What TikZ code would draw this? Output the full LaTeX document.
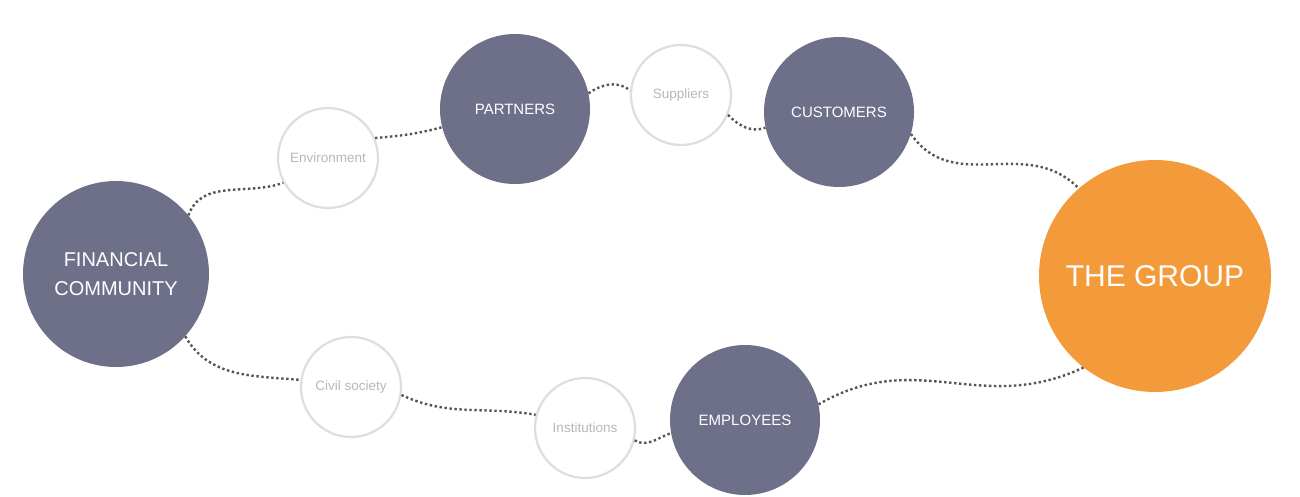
\documentclass[tikz,border=0pt]{standalone}
\usepackage{fontspec}
\setmainfont{Liberation Sans}
\definecolor{slate}{HTML}{6D7088}
\definecolor{grporange}{HTML}{F39A3A}
\definecolor{ringgray}{HTML}{DEDEDE}
\definecolor{smalltext}{HTML}{B8B8B8}
\definecolor{dotgray}{HTML}{555555}
\begin{document}
\begin{tikzpicture}[x=1pt,y=1pt,
  bigc/.style={circle,fill=slate,draw=none,inner sep=0pt,text=white,align=center},
  midlabel/.style={font=\fontsize{15}{18}\selectfont},
  smallc/.style={circle,fill=white,draw=ringgray,line width=2.2pt,inner sep=0pt,minimum size=100pt,text=smalltext,font=\fontsize{13.5}{16}\selectfont},
  link/.style={dotgray,line width=2.4pt,dash pattern=on 2.4pt off 2.6pt}
]
\useasboundingbox[fill=white] (0,0) rectangle (1300,496);
% nodes
\node[bigc,minimum size=186pt,font=\fontsize{20}{29}\selectfont] (fin) at (116,222) {FINANCIAL\\COMMUNITY};
\node[smallc] (env) at (328,338) {Environment};
\node[bigc,minimum size=150pt,midlabel] (par) at (515,387) {PARTNERS};
\node[smallc] (sup) at (681,401) {Suppliers};
\node[bigc,minimum size=150pt,midlabel] (cus) at (839,384) {CUSTOMERS};
\node[circle,fill=grporange,inner sep=0pt,minimum size=232pt,text=white,font=\fontsize{30}{34}\selectfont] (grp) at (1155,220) {THE GROUP};
\node[smallc] (civ) at (351,109) {Civil society};
\node[smallc] (ind) at (585,68) {Institutions};
\node[bigc,minimum size=150pt,midlabel] (emp) at (745,76) {EMPLOYEES};
% connectors
\draw[link] (fin.39) to[out=70,in=200] (env.209);
\draw[link] (env.23) to[out=5,in=195] (par.194);
\draw[link] (par.12) to[out=35,in=140] (sup.175);
\draw[link] (sup.-23) to[out=-45,in=200] (cus.192);
\draw[link] (cus.-17) to[out=-55,in=135,looseness=1.1] (grp.131);
\draw[link] (fin.-42) to[out=-60,in=175] (civ.172);
\draw[link] (civ.-9) to[out=-25,in=170] (ind.165);
\draw[link] (ind.-14) to[out=-30,in=200] (emp.190);
\draw[link] (emp.12) to[out=30,in=205,looseness=1.1] (grp.232);
\end{tikzpicture}
\end{document}
